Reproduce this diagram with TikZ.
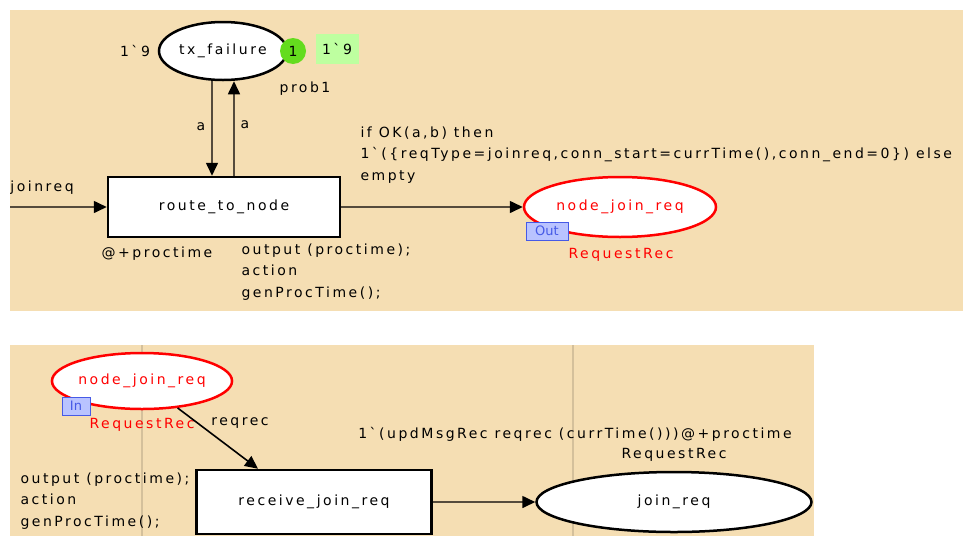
\documentclass[tikz,border=0pt]{standalone}
\usepackage{fontspec}
\setmainfont{DejaVu Sans}
\newfontfamily\cpnfont{DejaVu Sans}[LetterSpace=18, Ligatures=TeXOff]
\usepackage{xcolor}
\usepackage{tikz}
\usetikzlibrary{arrows.meta, shapes.geometric}

\definecolor{pagebg}{RGB}{245,222,179}
\definecolor{arcline}{RGB}{85,75,60}
\definecolor{tokgreen}{RGB}{100,220,30}
\definecolor{markgreen}{RGB}{190,255,160}
\definecolor{tagfill}{RGB}{185,195,255}
\definecolor{tagblue}{RGB}{70,90,230}
\definecolor{gridline}{RGB}{212,192,155}

\tikzset{
  place/.style={ellipse, draw=black, line width=2.5pt, fill=white, inner sep=0pt},
  ioplace/.style={place, draw=red, text=red},
  trans/.style={rectangle, draw=black, line width=2.5pt, fill=white, inner sep=0pt},
  arc/.style={draw=arcline, line width=1.6pt, -{Triangle[length=13pt, width=12pt, color=black]}},
  porttag/.style={rectangle, draw=tagblue, fill=tagfill, text=tagblue, line width=1pt,
    inner sep=0pt, minimum width=42pt, minimum height=18pt, font=\rmfamily\fontsize{13}{13}\selectfont},
}

\begin{document}
\begin{tikzpicture}[x=1pt, y=-1pt, font=\cpnfont\fontsize{14}{21.5}\selectfont]
    \useasboundingbox (0,0) rectangle (963,536);

    % Top page
    \fill[pagebg] (10,10) rectangle (963,311);

    \node[place, minimum width=128pt, minimum height=58pt] (txfail) at (223,51) {tx\_failure};
    \node[circle, fill=tokgreen, minimum size=26pt, inner sep=0pt] (tokcount) at (293,51) {1};
    \node[fill=markgreen, minimum width=43pt, minimum height=30pt, inner sep=0pt] (marking) at (337,49) {1`9};
    \node (initmark) at (135,51) {1`9};
    \node (prob) at (305,89) {prob1};

    \node[trans, minimum width=232pt, minimum height=60pt] (route) at (224,207) {route\_to\_node};

    % Loop with tx_failure
    \draw[arc] ([xshift=-11pt]txfail.south) -- ([xshift=-12pt]route.north);
    \draw[arc] ([xshift=10pt]route.north) -- ([xshift=11pt]txfail.south);
    \node (adown) at (201,127) {a};
    \node (aup) at (245,125) {a};

    % Input
    \coordinate (src) at (10,207);
    \draw[arc] (src) -- (route.west);
    \node (joinreq) at (42,188) {joinreq};

    \node (delay) at (157,254) {@+proctime};
    \node[align=left, anchor=west] (code) at (238,272) {output (proctime);\\action\\genProcTime();};

    % Output port
    \node[ioplace, minimum width=192pt, minimum height=60pt] (njr) at (620,207) {node\_join\_req};
    \draw[arc] (route.east) -- (njr.west);
    \node[align=left, anchor=west] (guard) at (357,155)
        {if OK(a,b) then\\1`(\{reqType=joinreq,conn\_start=currTime(),conn\_end=0\}) else\\empty};
    \node[porttag] (outtag) at (547,231) {Out};
    \node[text=red] (njrtype) at (621,255) {RequestRec};

    % Bottom page
    \fill[pagebg] (10,345) rectangle (814,536);
    \draw[gridline, line width=2pt] (142,345) -- (142,536);
    \draw[gridline, line width=2pt] (573,345) -- (573,536);

    % Input port
    \node[ioplace, minimum width=180pt, minimum height=56pt] (njrin) at (142,381) {node\_join\_req};
    \node[porttag, minimum width=28pt] (intag) at (76,406) {In};
    \node[text=red] (njrintype) at (142,425) {RequestRec};

    \node[trans, minimum width=235pt, minimum height=64pt] (recv) at (314,502) {receive\_join\_req};
    \draw[arc, draw=black] (njrin) -- ([xshift=-56pt]recv.north);
    \node (reqrec) at (240,423) {reqrec};

    \node[place, minimum width=275pt, minimum height=60pt] (joinreqpl) at (674,502) {join\_req};
    \draw[arc] (recv.east) -- (joinreqpl.west);
    \node (outexpr) at (575,434) {1`(updMsgRec reqrec (currTime()))@+proctime};
    \node (jrtype) at (674,455) {RequestRec};

    \node[align=left, anchor=west] (code2) at (17,501) {output (proctime);\\action\\genProcTime();};
\end{tikzpicture}
\end{document}
